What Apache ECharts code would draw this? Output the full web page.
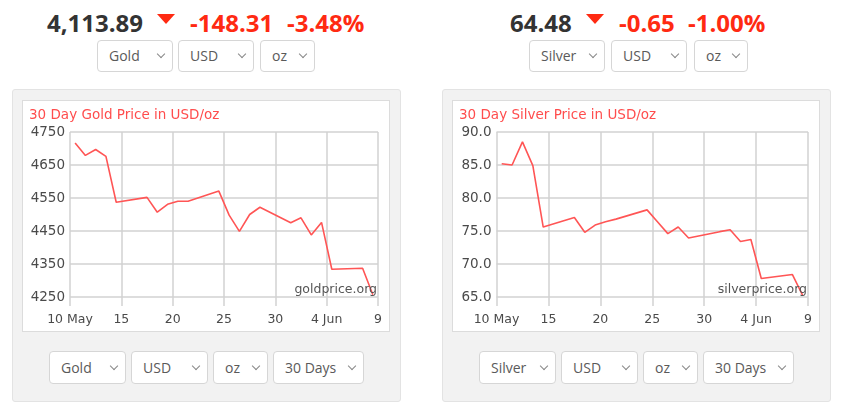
<!DOCTYPE html>
<html>
<head>
<meta charset="utf-8">
<script src="https://cdn.jsdelivr.net/npm/echarts@6/dist/echarts.min.js"></script>
<style>
  body { margin: 0; width: 842px; height: 419px; background: #fff; position: relative; overflow: hidden;
         font-family: 'Open Sans', sans-serif; }
  .q { position: absolute; top: 6px; font-size: 24px; font-weight: 700; line-height: 34px; white-space: nowrap; }
  .price { color: #333; }
  .chg { color: #ff2a12; }
  .tri { position: absolute; top: 14px; width: 0; height: 0;
         border-left: 9.5px solid transparent; border-right: 9.5px solid transparent; border-top: 10px solid #ff2a12; }
  .sel { position: absolute; box-sizing: border-box; border: 1px solid #d6d6d6; border-radius: 4px; background: #fff;
         font-size: 14px; color: #5a5a5a; padding-left: 11px; }
  .sel::after { content: ''; position: absolute; right: 8px; width: 5px; height: 5px;
                border-right: 1px solid #888; border-bottom: 1px solid #888; transform: rotate(45deg); }
  .top { top: 40px; height: 32px; line-height: 30px; }
  .top::after { top: 10px; }
  .bot { top: 351px; height: 33px; line-height: 31px; }
  .bot::after { top: 11px; }
  .panel { position: absolute; top: 89px; width: 389px; height: 313px; box-sizing: border-box;
           background: #f2f2f2; border: 1px solid #e3e3e3; border-radius: 3px; }
  .chart { position: absolute; top: 100px; width: 368px; height: 232px; box-sizing: border-box;
           background: #fff; border: 1px solid #dcdcdc; }
</style>
</head>
<body>
  <!-- gold header -->
  <span class="q price" style="left:47px">4,113.89</span>
  <span class="tri" style="left:157px"></span>
  <span class="q chg" style="left:190px">-148.31</span>
  <span class="q chg" style="left:287px">-3.48%</span>
  <div class="sel top" style="left:97px;width:76px">Gold</div>
  <div class="sel top" style="left:178px;width:76px">USD</div>
  <div class="sel top" style="left:260px;width:55px">oz</div>

  <!-- silver header -->
  <span class="q price" style="left:510px">64.48</span>
  <span class="tri" style="left:586px"></span>
  <span class="q chg" style="left:619px">-0.65</span>
  <span class="q chg" style="left:688px">-1.00%</span>
  <div class="sel top" style="left:529px;width:76px">Silver</div>
  <div class="sel top" style="left:611px;width:76px">USD</div>
  <div class="sel top" style="left:694px;width:54px">oz</div>

  <div class="panel" style="left:12px"></div>
  <div class="panel" style="left:442px"></div>
  <div id="gold" class="chart" style="left:22px"></div>
  <div id="silver" class="chart" style="left:452px"></div>

  <div class="sel bot" style="left:49px;width:77px">Gold</div>
  <div class="sel bot" style="left:131px;width:77px">USD</div>
  <div class="sel bot" style="left:213px;width:55px">oz</div>
  <div class="sel bot" style="left:273px;width:91px">30 Days</div>
  <div class="sel bot" style="left:479px;width:77px">Silver</div>
  <div class="sel bot" style="left:561px;width:77px">USD</div>
  <div class="sel bot" style="left:643px;width:55px">oz</div>
  <div class="sel bot" style="left:703px;width:91px">30 Days</div>

<script>
// 30 day window, one close per trading day
var rangeStart = '2026-05-10';
var tradeDates = ['2026-05-10', '2026-05-11', '2026-05-12', '2026-05-13', '2026-05-14',
                  '2026-05-17', '2026-05-18', '2026-05-19', '2026-05-20', '2026-05-21',
                  '2026-05-24', '2026-05-25', '2026-05-26', '2026-05-27', '2026-05-28',
                  '2026-05-31', '2026-06-01', '2026-06-02', '2026-06-03', '2026-06-04',
                  '2026-06-07', '2026-06-08'];
var goldPrices = [4717, 4679, 4697, 4676, 4537,
                  4552, 4507, 4531, 4540, 4540,
                  4571, 4498, 4449, 4500, 4522,
                  4475, 4490, 4438, 4476, 4334,
                  4337, 4257];
var silverPrices = [85.2, 85.0, 88.5, 84.9, 75.6,
                    77.05, 74.8, 75.9, 76.4, 76.8,
                    78.2, 76.4, 74.6, 75.6, 73.95,
                    74.9, 75.2, 73.4, 73.7, 67.8,
                    68.4, 65.2];
var xTickLabels = ['10 May', '15', '20', '25', '30', '4 Jun', '9'];

var DAY = 86400000;
function dayOffset(d) {
    return (Date.parse(d) - Date.parse(rangeStart)) / DAY + 0.5;
}

function buildOption(title, prices, yMin, yMax, yStep, decimals, site, gridLeft) {
    var pts = tradeDates.map(function (d, i) { return [dayOffset(d), prices[i]]; });
    var gridColor = '#d2d2d2';
    return {
        animation: false,
        title: {
            text: title, left: 6, top: 7, padding: 0,
            textStyle: { fontFamily: 'DejaVu Sans', fontSize: 13.5, fontWeight: 'normal', color: '#ff4d4d' }
        },
        graphic: [{
            type: 'text', right: 12, top: 182, z: 10,
            style: { text: site, font: '12.5px "DejaVu Sans"', fill: '#555' }
        }],
        grid: { left: gridLeft, right: 11, top: 31, bottom: 34 },
        xAxis: {
            type: 'value', min: 0, max: 30, interval: 5,
            axisLine: { show: false },
            axisTick: { show: true, length: 9, lineStyle: { color: gridColor, width: 1.5 } },
            splitLine: { show: true, lineStyle: { color: gridColor, width: 1.5 } },
            axisLabel: {
                margin: 16, fontFamily: 'DejaVu Sans', fontSize: 12.5, color: '#4a4a4a',
                formatter: function (v) { return xTickLabels[Math.round(v / 5)]; }
            }
        },
        yAxis: {
            type: 'value', min: yMin, max: yMax, interval: yStep,
            axisLine: { show: false },
            axisTick: { show: false },
            splitLine: { show: true, lineStyle: { color: gridColor, width: 1.5 } },
            axisLabel: {
                margin: 5, fontFamily: 'DejaVu Sans', fontSize: 13.5, color: '#4a4a4a',
                formatter: function (v) { return v.toFixed(decimals); }
            }
        },
        series: [{
            type: 'line', data: pts, showSymbol: false, symbol: 'none',
            lineStyle: { color: '#ff5555', width: 1.6 }
        }]
    };
}

var goldChart = echarts.init(document.getElementById('gold'));
goldChart.setOption(buildOption('30 Day Gold Price in USD/oz', goldPrices, 4250, 4750, 100, 0, 'goldprice.org', 47));

var silverChart = echarts.init(document.getElementById('silver'));
silverChart.setOption(buildOption('30 Day Silver Price in USD/oz', silverPrices, 65, 90, 5, 1, 'silverprice.org', 43.5));
</script>
</body>
</html>
